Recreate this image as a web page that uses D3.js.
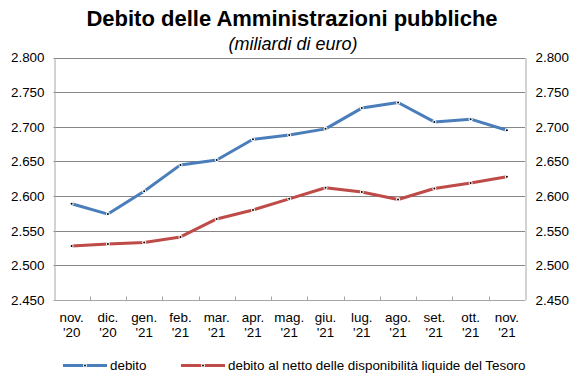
<!DOCTYPE html>
<html>
<head>
<meta charset="utf-8">
<script src="https://cdn.jsdelivr.net/npm/d3@7"></script>
<style>
  body { margin: 0; background: #fff; }
  svg { display: block; font-family: "Liberation Sans", Arial, sans-serif; }
</style>
</head>
<body>
<div id="chart"></div>
<script>
// Data (miliardi di euro)
const months = ["nov.", "dic.", "gen.", "feb.", "mar.", "apr.", "mag.", "giu.", "lug.", "ago.", "set.", "ott.", "nov."];
const years = ["'20", "'20", "'21", "'21", "'21", "'21", "'21", "'21", "'21", "'21", "'21", "'21", "'21"];
const debito = [2589, 2574, 2607, 2645, 2652, 2682, 2688, 2697, 2727, 2735, 2707, 2711, 2695];
const debitoNetto = [2528, 2531, 2533, 2541, 2567, 2580, 2596, 2612, 2606, 2595, 2611, 2619, 2628];
const yTicks = [2450, 2500, 2550, 2600, 2650, 2700, 2750, 2800];
const seriesNames = ["debito", "debito al netto delle disponibilità liquide del Tesoro"];

const W = 580, H = 387;
const margin = { top: 57.5, right: 55, bottom: 87, left: 53.5 };
const fs = "13.4px";

const svg = d3.select("#chart").append("svg")
    .attr("width", W)
    .attr("height", H);

const x = d3.scaleBand()
    .domain(d3.range(months.length))
    .range([margin.left, W - margin.right])
    .padding(0);

const y = d3.scaleLinear()
    .domain([2450, 2800])
    .range([H - margin.bottom, margin.top]);

const fmt = d3.formatLocale({ decimal: ",", thousands: ".", grouping: [3], currency: ["", "€"] }).format(",.0f");

// Title
svg.append("text")
    .attr("x", 292).attr("y", 26)
    .attr("text-anchor", "middle")
    .style("font-size", "22px").style("font-weight", "bold")
    .text("Debito delle Amministrazioni pubbliche");

svg.append("text")
    .attr("x", 293).attr("y", 50)
    .attr("text-anchor", "middle")
    .style("font-size", "18px").style("font-style", "italic")
    .text("(miliardi di euro)");

// Gridlines
svg.append("g")
    .selectAll("line")
    .data(yTicks.filter(d => d > 2450))
    .join("line")
    .attr("x1", margin.left).attr("x2", W - margin.right)
    .attr("y1", d => Math.round(y(d)) + 0.5).attr("y2", d => Math.round(y(d)) + 0.5)
    .attr("stroke", "#868686").attr("stroke-width", 1.2);

// Left and right axes
const yLeft = svg.append("g")
    .attr("transform", `translate(${Math.round(margin.left) + 0.5},0)`)
    .call(d3.axisLeft(y).tickValues(yTicks).tickFormat(fmt).tickSize(0).tickPadding(10));
const yRight = svg.append("g")
    .attr("transform", `translate(${Math.round(W - margin.right) + 0.5},0)`)
    .call(d3.axisRight(y).tickValues(yTicks).tickFormat(fmt).tickSize(0).tickPadding(10));

[yLeft, yRight].forEach(g => {
    g.select(".domain").attr("stroke", "#a6a6a6");
    g.selectAll("text").style("font-size", fs).attr("fill", "#000");
});

// Bottom axis with ticks between categories
const xAxis = svg.append("g")
    .attr("transform", `translate(0,${Math.round(y(2450)) + 0.5})`);
xAxis.append("line")
    .attr("x1", margin.left).attr("x2", W - margin.right)
    .attr("stroke", "#a6a6a6");
xAxis.selectAll(".tick")
    .data(d3.range(1, months.length))
    .join("line")
    .attr("class", "tick")
    .attr("x1", i => Math.round(x(i)) + 0.5).attr("x2", i => Math.round(x(i)) + 0.5)
    .attr("y1", 0).attr("y2", -4)
    .attr("stroke", "#a6a6a6");

const xLabels = xAxis.selectAll(".lbl")
    .data(d3.range(months.length))
    .join("text")
    .attr("class", "lbl")
    .attr("text-anchor", "middle")
    .style("font-size", fs)
    .attr("transform", i => `translate(${x(i) + x.bandwidth() / 2},0)`);
xLabels.append("tspan").attr("x", 0).attr("y", 21).text(i => months[i]);
xLabels.append("tspan").attr("x", 0).attr("y", 36).text(i => years[i]);

// Lines
const series = [
    { name: seriesNames[0], values: debito, color: "#4a7ebb" },
    { name: seriesNames[1], values: debitoNetto, color: "#be4b48" }
];

const line = d3.line()
    .x((d, i) => x(i) + x.bandwidth() / 2)
    .y(d => y(d));

series.forEach(s => {
    svg.append("path")
        .datum(s.values)
        .attr("fill", "none")
        .attr("stroke", s.color)
        .attr("stroke-width", 3)
        .attr("stroke-linejoin", "round")
        .attr("d", line);

    const pts = svg.append("g").selectAll("g")
        .data(s.values)
        .join("g")
        .attr("transform", (d, i) => `translate(${x(i) + x.bandwidth() / 2},${y(d)})`);
    pts.append("circle").attr("r", 2).attr("fill", "#fff");
    pts.append("circle").attr("r", 1).attr("fill", "#000");
});

// Legend
const legend = svg.append("g").attr("transform", "translate(0,365.5)");
const legendPos = [{ x0: 63, tx: 110 }, { x0: 181, tx: 228 }];
series.forEach((s, k) => {
    const p = legendPos[k];
    legend.append("line")
        .attr("x1", p.x0).attr("x2", p.x0 + 44)
        .attr("stroke", s.color).attr("stroke-width", 3);
    legend.append("circle").attr("cx", p.x0 + 22).attr("r", 2).attr("fill", "#fff");
    legend.append("circle").attr("cx", p.x0 + 22).attr("r", 1).attr("fill", "#000");
    legend.append("text")
        .attr("x", p.tx).attr("y", 4.5)
        .style("font-size", fs)
        .text(s.name);
});
</script>
</body>
</html>
